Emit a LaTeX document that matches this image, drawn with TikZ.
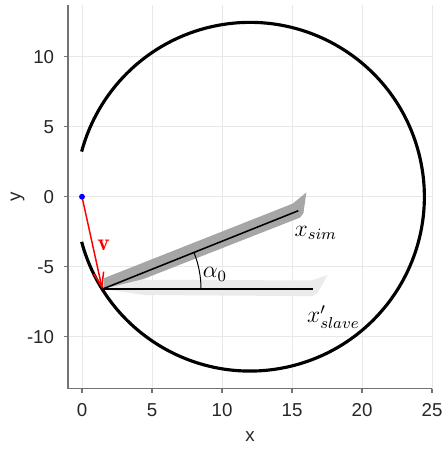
\documentclass[tikz,border=0pt]{standalone}
\usepackage{amsmath}
\usepackage{fontspec}
\newfontfamily\axisfont{Liberation Sans}
\usetikzlibrary{arrows.meta}

\tikzset{
  gridline/.style={black!9, line width=0.45pt},
  axisline/.style={black!55, line width=0.6pt},
  ticklabel/.style={font=\axisfont\fontsize{9.5}{11}\selectfont, text=black!85},
  mathlabel/.style={font=\large},
  simband/.style={fill=black!35},
  slaveband/.style={fill=black!8},
  vecarrow/.style={red, line width=0.75pt, -{Straight Barb[length=2.6mm,width=1.8mm]}}
}
% outline of the shaded bands, in local coordinates along each axis
\newcommand{\bandpath}{(0.1,0.05) -- (0.4,0.68) -- (14.9,0.62) -- (16.1,1.0)
  -- (15.35,-0.3) -- (15.0,-0.5) -- (3,-0.42) -- (0.4,-0.05) -- cycle}

\begin{document}
\begin{tikzpicture}[x=0.25cm, y=0.25cm]
  \useasboundingbox (-5.857,-18.09) rectangle (25.857,14.05);

  % grid
  \foreach \gx in {0,5,...,25}
    \draw[gridline] (\gx,-13.7) -- (\gx,13.7);
  \foreach \gy in {-10,-5,0,5,10}
    \draw[gridline] (-1,\gy) -- (25,\gy);

  % axes
  \draw[axisline] (-1,-13.7) -- (25,-13.7);
  \draw[axisline] (-1,-13.7) -- (-1,13.7);
  \foreach \gx in {0,5,...,25} {
    \draw[axisline] (\gx,-13.7) -- (\gx,-14.0);
    \node[ticklabel] (xt\gx) at (\gx,-15.25) {\gx};
  }
  \foreach \gy in {-10,-5,0,5,10} {
    \draw[axisline] (-1,\gy) -- (-1.3,\gy);
    \node[ticklabel, anchor=east] (yt\gy) at (-1.5,\gy) {\gy};
  }
  \node[ticklabel] (xlab) at (12,-17.15) {x};
  \node[ticklabel, rotate=90] (ylab) at (-4.6,0) {y};

  % workspace circle, open on the left
  \coordinate (C) at (12,0);
  \draw[line width=1.6pt] (C) ++(-165:12.45) arc (-165:165:12.45);

  % shaded bands
  \coordinate (V) at (1.45,-6.6);
  \fill[slaveband, shift={(V)}] \bandpath;
  \fill[simband, shift={(V)}, rotate=21.8] \bandpath;

  \coordinate (Esim) at (15.45,-1.0);
  \coordinate (Eslave) at (16.5,-6.6);
  \draw[line width=0.8pt] (V) -- (Esim);
  \draw[line width=0.8pt] (V) -- (Eslave);

  % angle between the two axes
  \draw[line width=0.5pt] (V) ++(0:7.05) arc (0:21.8:7.05);
  \node[mathlabel] (alpha) at (9.5,-5.55) {$\alpha_0$};

  \node[mathlabel] (xsim) at (16.7,-2.6) {$x_{sim}$};
  \node[mathlabel] (xslave) at (17.95,-8.6) {$x'_{slave}$};

  % velocity
  \coordinate (O) at (0,0);
  \draw[vecarrow] (O) -- (V);
  \fill[blue] (O) circle (0.21);
  \node[mathlabel, text=red] (v) at (1.55,-3.45) {$\mathbf{v}$};
\end{tikzpicture}
\end{document}
